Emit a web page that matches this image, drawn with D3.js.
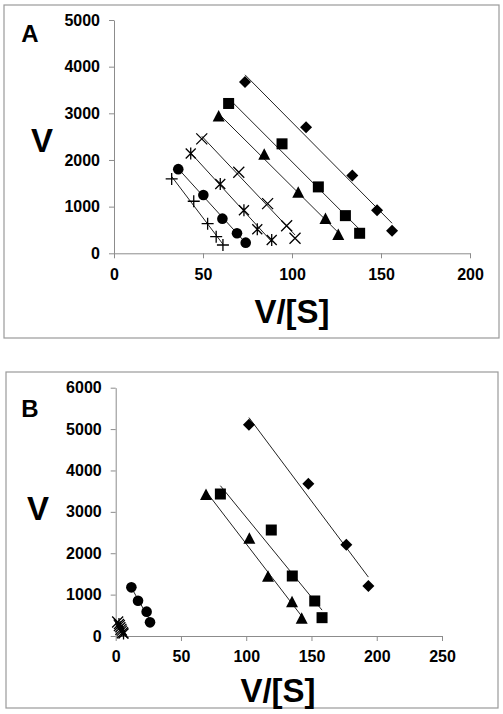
<!DOCTYPE html>
<html><head><meta charset="utf-8">
<script src="https://cdn.jsdelivr.net/npm/d3@7"></script>
<style>body{margin:0;background:#fff}svg{display:block}</style>
</head><body>
<svg id="c" width="503" height="714"></svg>
<script>
// ---------- Panel A data ----------
const aXTicks = [0, 50, 100, 150, 200];
const aYTicks = [0, 1000, 2000, 3000, 4000, 5000];
const aDiamondX = [73.6, 107.9, 133.9, 147.8, 156.2];
const aDiamondY = [3670, 2704, 1665, 923, 485];
const aSquareX = [64.4, 94.4, 114.8, 130.0, 138.0];
const aSquareY = [3211, 2346, 1423, 807, 429];
const aTriangleX = [58.8, 84.4, 103.5, 118.8, 126.0];
const aTriangleY = [2932, 2110, 1300, 736, 393];
const aCrossX = [49.3, 70.1, 86.3, 97.0, 101.7];
const aCrossY = [2453, 1738, 1065, 592, 322];
const aStarX = [43.1, 59.7, 73.0, 80.5, 88.6];
const aStarY = [2138, 1487, 923, 515, 285];
const aCircleX = [36.1, 50.2, 60.9, 69.1, 74.0];
const aCircleY = [1803, 1251, 743, 429, 228];
const aPlusX = [32.4, 44.8, 52.6, 57.4, 61.2];
const aPlusY = [1594, 1116, 635, 356, 178];

// ---------- Panel B data ----------
const bXTicks = [0, 50, 100, 150, 200, 250];
const bYTicks = [0, 1000, 2000, 3000, 4000, 5000, 6000];
const bDiamondX = [102.1, 147.6, 176.7, 193.6];
const bDiamondY = [5105, 3680, 2206, 1208];
const bSquareX = [80.2, 119.2, 135.3, 152.5, 158.1];
const bSquareY = [3431, 2561, 1450, 846, 443];
const bTriangleX = [69.2, 102.4, 116.7, 135.1, 142.5];
const bTriangleY = [3407, 2351, 1433, 813, 419];
const bCircleX = [12.0, 17.1, 23.7, 26.3];
const bCircleY = [1176, 853, 588, 330];
const bCrossX = [1.5, 2.8, 4.0, 5.2];
const bCrossY = [340, 250, 160, 80];
const bStarX = [2.5, 3.6, 4.8, 6.0];
const bStarY = [290, 210, 130, 60];

const svg = d3.select("#c");
const FONT = "Arial, 'Liberation Sans', sans-serif";

function series(xs, ys, marker) {
  return { pts: xs.map((x, i) => ({ x, y: ys[i] })), marker };
}

function fit(pts) {
  const mx = d3.mean(pts, d => d.x), my = d3.mean(pts, d => d.y);
  let sxy = 0, sxx = 0;
  pts.forEach(d => { sxy += (d.x - mx) * (d.y - my); sxx += (d.x - mx) ** 2; });
  const b = sxy / sxx, a = my - b * mx;
  const [x0, x1] = d3.extent(pts, d => d.x);
  return [{ x: x0, y: a + b * x0 }, { x: x1, y: a + b * x1 }];
}

function drawMarker(g, type, cx, cy) {
  const s = g.append("g").attr("transform", `translate(${cx},${cy})`);
  if (type === "diamond") {
    s.append("path").attr("d", "M0,-6L6,0L0,6L-6,0Z").attr("fill", "#000");
  } else if (type === "square") {
    s.append("rect").attr("x", -5.5).attr("y", -5.5).attr("width", 11).attr("height", 11).attr("fill", "#000");
  } else if (type === "triangle") {
    s.append("path").attr("d", "M0,-6.5L6,5L-6,5Z").attr("fill", "#000");
  } else if (type === "circle") {
    s.append("circle").attr("r", 5.3).attr("fill", "#000");
  } else if (type === "cross") {
    s.append("path").attr("d", "M-5.5,-5.5L5.5,5.5M-5.5,5.5L5.5,-5.5").attr("stroke", "#000").attr("stroke-width", 1.3);
  } else if (type === "star") {
    s.append("path").attr("d", "M-5,-5L5,5M-5,5L5,-5M0,-6L0,6").attr("stroke", "#000").attr("stroke-width", 1.3);
  } else if (type === "plus") {
    s.append("path").attr("d", "M-6,0L6,0M0,-6L0,6").attr("stroke", "#000").attr("stroke-width", 1.3);
  }
}

function panel(opt) {
  const g = svg.append("g");
  g.append("rect").attr("x", opt.box[0]).attr("y", opt.box[1])
    .attr("width", opt.box[2]).attr("height", opt.box[3])
    .attr("fill", "none").attr("stroke", "#9a9a9a").attr("stroke-width", 1.2);
  const x = d3.scaleLinear().domain(opt.xd).range(opt.xr);
  const y = d3.scaleLinear().domain(opt.yd).range(opt.yr);
  const fmt = d3.format("d");

  const xa = g.append("g").attr("transform", `translate(0,${opt.yr[0]})`)
    .call(d3.axisBottom(x).tickValues(opt.xTicks).tickFormat(fmt).tickSize(5).tickSizeOuter(0).tickPadding(10));
  const ya = g.append("g").attr("transform", `translate(${opt.xr[0]},0)`)
    .call(d3.axisLeft(y).tickValues(opt.yTicks).tickFormat(fmt).tickSize(5).tickSizeOuter(0).tickPadding(9));
  [xa, ya].forEach(a => {
    a.select(".domain").attr("stroke", "#8c8c8c");
    a.selectAll(".tick line").attr("stroke", "#8c8c8c");
    a.selectAll(".tick text").attr("font-family", FONT).attr("font-weight", "bold")
      .attr("font-size", 16).attr("fill", "#000");
  });

  opt.series.forEach(s => {
    const f = fit(s.pts);
    g.append("line").attr("x1", x(f[0].x)).attr("y1", y(f[0].y))
      .attr("x2", x(f[1].x)).attr("y2", y(f[1].y))
      .attr("stroke", "#222").attr("stroke-width", 1);
    s.pts.forEach(p => drawMarker(g, s.marker, x(p.x), y(p.y)));
  });

  g.append("text").attr("x", opt.letter[0]).attr("y", opt.letter[1]).text(opt.letter[2])
    .attr("font-family", FONT).attr("font-weight", "bold").attr("font-size", 24).attr("text-anchor", "middle");
  g.append("text").attr("x", opt.yl[0]).attr("y", opt.yl[1]).text("V")
    .attr("font-family", FONT).attr("font-weight", "bold").attr("font-size", 33).attr("text-anchor", "middle");
  g.append("text").attr("x", opt.xl[0]).attr("y", opt.xl[1]).text("V/[S]")
    .attr("font-family", FONT).attr("font-weight", "bold").attr("font-size", 33).attr("text-anchor", "middle");
}

panel({
  box: [4, 5, 495, 333],
  xd: [0, 200], xr: [114, 470],
  yd: [0, 5000], yr: [253.3, 20],
  xTicks: aXTicks, yTicks: aYTicks,
  letter: [30, 42, "A"], yl: [42, 152], xl: [292, 323],
  series: [
    series(aDiamondX, aDiamondY, "diamond"),
    series(aSquareX, aSquareY, "square"),
    series(aTriangleX, aTriangleY, "triangle"),
    series(aCrossX, aCrossY, "cross"),
    series(aStarX, aStarY, "star"),
    series(aCircleX, aCircleY, "circle"),
    series(aPlusX, aPlusY, "plus")
  ]
});

panel({
  box: [6, 372, 492, 336],
  xd: [0, 250], xr: [115.7, 442],
  yd: [0, 6000], yr: [636, 387.7],
  xTicks: bXTicks, yTicks: bYTicks,
  letter: [30, 417, "B"], yl: [38, 520], xl: [278, 702],
  series: [
    series(bDiamondX, bDiamondY, "diamond"),
    series(bSquareX, bSquareY, "square"),
    series(bTriangleX, bTriangleY, "triangle"),
    series(bCircleX, bCircleY, "circle"),
    series(bCrossX, bCrossY, "cross"),
    series(bStarX, bStarY, "star")
  ]
});
</script>
</body></html>
